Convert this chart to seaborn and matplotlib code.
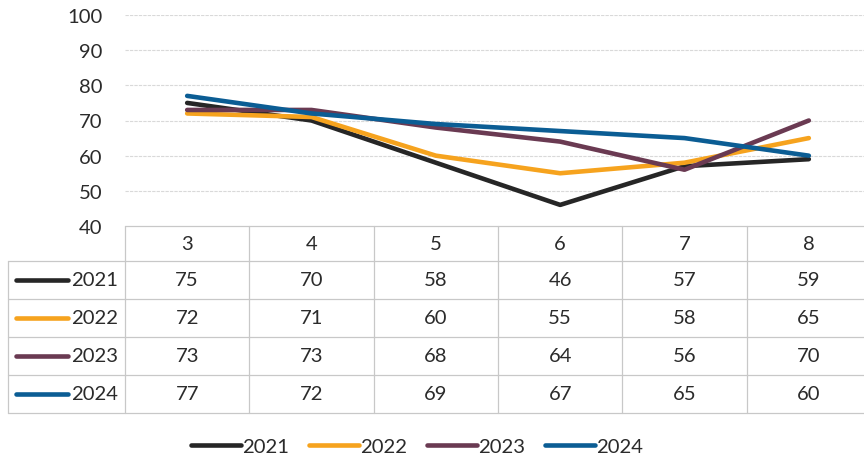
import matplotlib
matplotlib.use("Agg")
import matplotlib.pyplot as plt
import seaborn as sns
import pandas as pd
from matplotlib.lines import Line2D

months = [3, 4, 5, 6, 7, 8]
years = ["2021", "2022", "2023", "2024"]
v2021 = [75, 70, 58, 46, 57, 59]
v2022 = [72, 71, 60, 55, 58, 65]
v2023 = [73, 73, 68, 64, 56, 70]
v2024 = [77, 72, 69, 67, 65, 60]
series = [v2021, v2022, v2023, v2024]
colors = ["#262626", "#f6a31e", "#6a3a52", "#0b5d94"]
yticks = [40, 50, 60, 70, 80, 90, 100]

rows = []
for y, vals in zip(years, series):
    for m, v in zip(months, vals):
        rows.append({"month": m, "year": y, "value": v})
df = pd.DataFrame(rows)

sns.set_theme(style="white")
plt.rcParams["font.family"] = ["Lato", "DejaVu Sans"]
FS = 14.6
TXT = "#2b2b2b"

W, H = 864, 464
fig = plt.figure(figsize=(W / 100, H / 100), dpi=100)

ax = fig.add_axes([125 / W, (H - 227) / H, (871 - 125) / W, (227 - 16) / H])
ax.set_xlim(2.5, 8.5)
ax.set_ylim(40, 100)
for t in yticks[1:]:
    ax.axhline(t, color="#d9d9d9", lw=0.8, ls=(0, (3, 1)), zorder=0)
sns.lineplot(data=df, x="month", y="value", hue="year", palette=colors,
             linewidth=3.3, legend=False, ax=ax, solid_capstyle="round")
ax.set_xticks([])
ax.set_yticks(yticks)
ax.set_yticklabels([str(t) for t in yticks], fontsize=FS, color=TXT)
ax.tick_params(axis="y", length=0, pad=16)
ax.set_xlabel("")
ax.set_ylabel("")
for s in ax.spines.values():
    s.set_visible(False)
ax.patch.set_alpha(0)

# data table
x0 = 2.5 - (125 - 8) / ((871 - 125) / 6)
tax = fig.add_axes([8 / W, (H - 414) / H, (871 - 8) / W, (414 - 227) / H])
tax.set_xlim(x0, 8.5)
tax.set_ylim(414, 227)
tax.axis("off")
gc = "#c8c8c8"
glw = 0.9
bounds = [227, 262, 300, 338, 376, 414]
tax.plot([2.5, 8.5], [227, 227], color=gc, lw=glw, clip_on=False)
for yb in bounds[1:]:
    tax.plot([x0, 8.5], [yb, yb], color=gc, lw=glw, clip_on=False)
for i in range(7):
    xv = 2.5 + i
    tax.plot([xv, xv], [227, 414], color=gc, lw=glw, clip_on=False)
tax.plot([x0, x0], [262, 414], color=gc, lw=glw, clip_on=False)

for m in months:
    tax.text(m, 245, str(m), ha="center", va="center", fontsize=FS, color=TXT)
centers = [281, 319, 357, 395]
ppu = (871 - 125) / 6
for yr, vals, c, yc in zip(years, series, colors, centers):
    tax.plot([x0 + 8 / ppu, x0 + 60 / ppu], [yc, yc], color=c, lw=3.3,
             solid_capstyle="round", clip_on=False)
    tax.text(x0 + 63 / ppu, yc, yr, ha="left", va="center", fontsize=FS, color=TXT)
    for m, v in zip(months, vals):
        tax.text(m, yc, str(v), ha="center", va="center", fontsize=FS, color=TXT)

handles = [Line2D([0], [0], color=c, lw=3.3, solid_capstyle="round") for c in colors]
fig.legend(handles, years, loc="center", bbox_to_anchor=(417 / W, (H - 447) / H),
           ncol=4, frameon=False, fontsize=FS, handlelength=2.5, handletextpad=0.05,
           columnspacing=0.95, labelcolor=TXT)

fig.savefig("out.png", dpi=100, facecolor="white")
